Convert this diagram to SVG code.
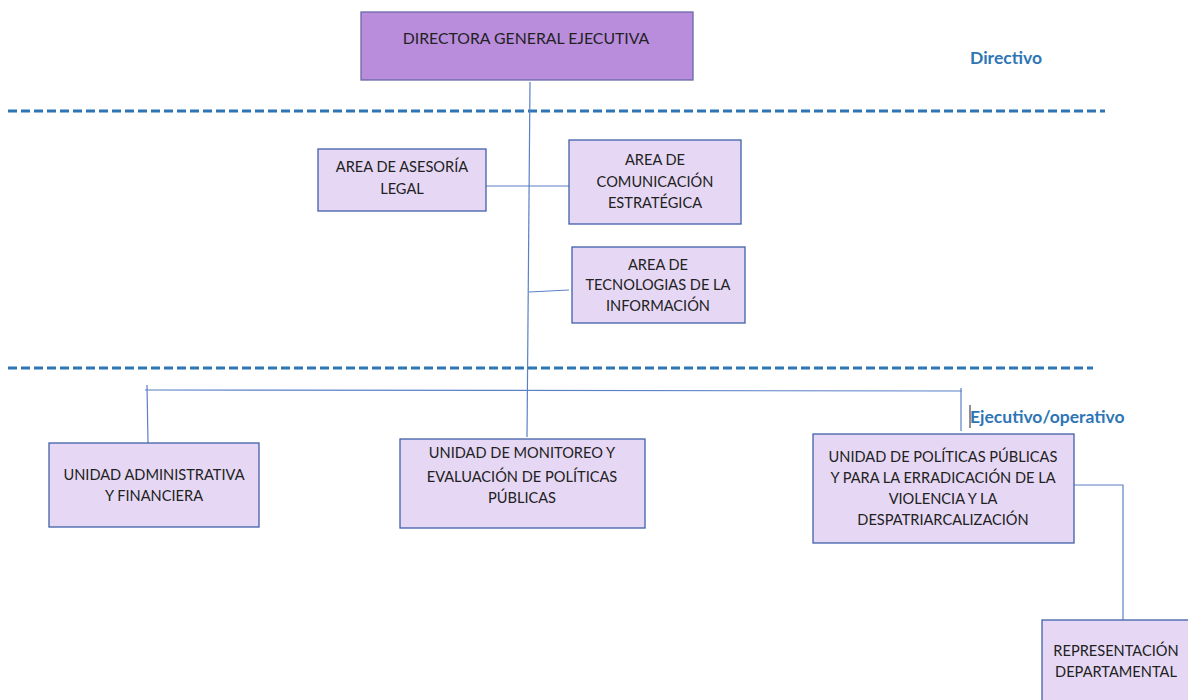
<svg xmlns="http://www.w3.org/2000/svg" width="1188" height="700" viewBox="0 0 1188 700">
<style>
.box{fill:#e6d8f5;stroke:#4060a8;stroke-width:1.3}
.top{fill:#b98ddc;stroke:#6868a8;stroke-width:1.3}
.t{font-family:Lato,"Liberation Sans",sans-serif;font-size:14.6px;fill:#222;text-anchor:middle}
.big{font-size:15.8px}
.lvl{font-family:Lato,"Liberation Sans",sans-serif;font-size:17.5px;font-weight:bold;fill:#2e75b6}
.dash{stroke:#2e75b6;stroke-width:3;stroke-dasharray:9 4;fill:none}
.c{stroke:#5b80c8;stroke-width:1.2;fill:none}
</style>
<rect width="1188" height="700" fill="#fff"/>
<g id="levels">
<line class="dash" x1="8" y1="111" x2="1105" y2="111"/>
<line class="dash" x1="8" y1="368" x2="1093" y2="368"/>
<text class="lvl" x="970" y="64">Directivo</text>
<text class="lvl" x="970" y="423">Ejecutivo/operativo</text>
<line x1="970" y1="405" x2="970" y2="428" stroke="#222" stroke-width="1"/>
</g>
<g id="connectors">
<polyline class="c" points="530,82 527,437"/>
<line class="c" x1="486" y1="186" x2="569" y2="186"/>
<line class="c" x1="529" y1="292" x2="569" y2="290"/>
<line class="c" x1="145" y1="390" x2="962" y2="391"/>
<line class="c" x1="147" y1="385" x2="148" y2="443"/>
<line class="c" x1="961" y1="388" x2="961" y2="431"/>
<polyline class="c" points="1074,485 1123,485 1123,620"/>
</g>
<g id="directora">
<rect class="top" x="361" y="12" width="332" height="68"/>
<text class="t big" x="526" y="44">DIRECTORA GENERAL EJECUTIVA</text>
</g>
<g id="asesoria">
<rect class="box" x="318" y="149" width="168" height="62"/>
<text class="t" x="402" y="172">AREA DE ASESORÍA</text>
<text class="t" x="402" y="194">LEGAL</text>
</g>
<g id="comunicacion">
<rect class="box" x="569" y="140" width="172" height="84"/>
<text class="t" x="655" y="165">AREA DE</text>
<text class="t" x="655" y="187">COMUNICACIÓN</text>
<text class="t" x="655" y="208">ESTRATÉGICA</text>
</g>
<g id="tecnologias">
<rect class="box" x="572" y="247" width="173" height="76"/>
<text class="t" x="658" y="270">AREA DE</text>
<text class="t" x="658" y="290">TECNOLOGIAS DE LA</text>
<text class="t" x="658" y="311">INFORMACIÓN</text>
</g>
<g id="administrativa">
<rect class="box" x="49" y="443" width="210" height="84"/>
<text class="t" x="154" y="480">UNIDAD ADMINISTRATIVA</text>
<text class="t" x="154" y="501">Y FINANCIERA</text>
</g>
<g id="monitoreo">
<rect class="box" x="400" y="439" width="245" height="89"/>
<text class="t" x="522" y="458">UNIDAD DE MONITOREO Y</text>
<text class="t" x="522" y="482">EVALUACIÓN DE POLÍTICAS</text>
<text class="t" x="522" y="503">PÚBLICAS</text>
</g>
<g id="politicas">
<rect class="box" x="813" y="434" width="261" height="109"/>
<text class="t" x="943" y="462">UNIDAD DE POLÍTICAS PÚBLICAS</text>
<text class="t" x="943" y="483">Y PARA LA ERRADICACIÓN DE LA</text>
<text class="t" x="943" y="504">VIOLENCIA Y LA</text>
<text class="t" x="943" y="525">DESPATRIARCALIZACIÓN</text>
</g>
<g id="representacion">
<rect class="box" x="1042" y="620" width="150" height="84"/>
<text class="t" x="1116" y="656">REPRESENTACIÓN</text>
<text class="t" x="1116" y="677">DEPARTAMENTAL</text>
</g>
</svg>
